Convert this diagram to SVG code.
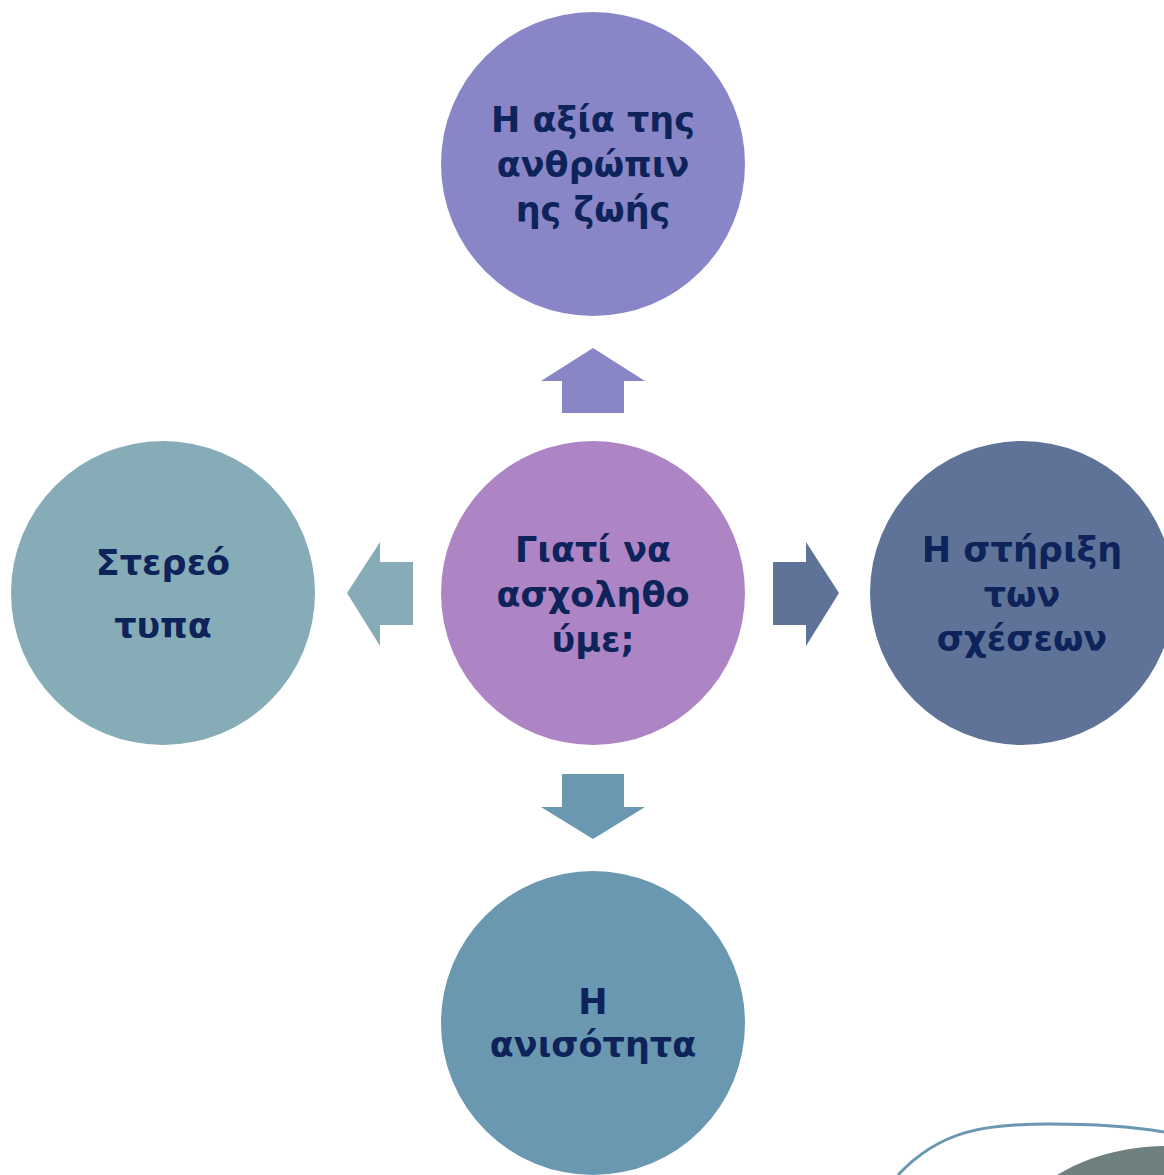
<svg xmlns="http://www.w3.org/2000/svg" width="1164" height="1175" viewBox="0 0 1164 1175">
<style>
.t{font-family:"DejaVu Sans","Noto Sans",sans-serif;font-weight:bold;font-size:35px;fill:#0D2359;text-anchor:middle}
</style>
<rect width="1164" height="1175" fill="#FFFFFF"/>
<g id="decor">
<path d="M898,1175 C940,1130 985,1124 1050,1124 C1100,1124 1140,1128 1164,1132" fill="none" stroke="#6A98B0" stroke-width="3"/>
<path d="M1057,1175 C1085,1158 1120,1147 1164,1146 L1164,1175 Z" fill="#6E8080"/>
</g>
<g id="connectors">
<polygon points="593,348 645,381 624,381 624,413 562,413 562,381 541,381" fill="#8886C6"/>
<polygon points="347,593 380,542 380,562 413,562 413,625 380,625 380,646" fill="#86ADB7"/>
<polygon points="839,593 806,542 806,562 773,562 773,625 806,625 806,646" fill="#5F7399"/>
<polygon points="593,839 645,807 624,807 624,774 562,774 562,807 541,807" fill="#6A98B0"/>
</g>
<g id="node-center">
<circle cx="593" cy="593" r="152" fill="#AE85C4"/>
<text class="t" x="593" y="562">Γιατί να</text>
<text class="t" x="593" y="607">ασχοληθο</text>
<text class="t" x="593" y="652">ύμε;</text>
</g>
<g id="node-top">
<circle cx="593" cy="164" r="152" fill="#8886C6"/>
<text class="t" x="593" y="132">Η αξία της</text>
<text class="t" x="593" y="177">ανθρώπιν</text>
<text class="t" x="593" y="222">ης ζωής</text>
</g>
<g id="node-right">
<circle cx="1022" cy="593" r="152" fill="#5F7399"/>
<text class="t" x="1022" y="562">Η στήριξη</text>
<text class="t" x="1022" y="607">των</text>
<text class="t" x="1022" y="651">σχέσεων</text>
</g>
<g id="node-left">
<circle cx="163" cy="593" r="152" fill="#86ADB7"/>
<text class="t" x="163" y="575">Στερεό</text>
<text class="t" x="163" y="638">τυπα</text>
</g>
<g id="node-bottom">
<circle cx="593" cy="1023" r="152" fill="#6A98B0"/>
<text class="t" x="593" y="1014">Η</text>
<text class="t" x="593" y="1057">ανισότητα</text>
</g>
</svg>
